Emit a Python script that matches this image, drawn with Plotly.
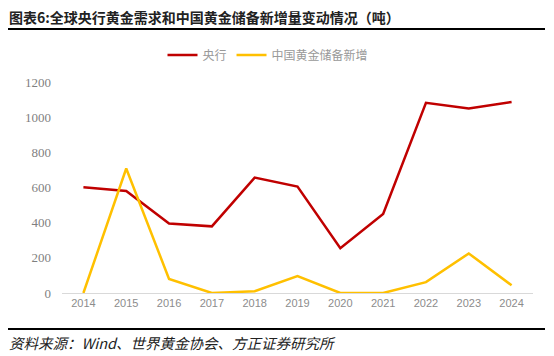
import plotly.graph_objects as go

years = ["2014", "2015", "2016", "2017", "2018", "2019", "2020", "2021", "2022", "2023", "2024"]
central_bank = [601, 580, 395, 379, 656, 605, 255, 450, 1082, 1050, 1086]
china_reserve = [0, 708, 80, 0, 10, 96, 0, 0, 62, 225, 44]

# page body has an 8px margin, so the figure is laid out 8px smaller / shifted
OFF = 8
W, H = 554 - OFF, 356 - OFF
L, R, T, B = 62 - OFF, 533 - OFF, 82 - OFF, 293 - OFF
pw, ph = R - L, B - T

def px(x):
    return (x - OFF - L) / pw

def py(y):
    return (B - (y - OFF)) / ph

fig = go.Figure()
fig.add_trace(go.Scatter(x=years, y=central_bank, name="央行", mode="lines",
                         line=dict(color="#C00000", width=2.5)))
fig.add_trace(go.Scatter(x=years, y=china_reserve, name="中国黄金储备新增", mode="lines",
                         line=dict(color="#FFC000", width=2.5)))

fig.update_layout(
    width=W, height=H,
    margin=dict(l=L, r=W - R, t=T, b=H - B),
    paper_bgcolor="white", plot_bgcolor="white",
    showlegend=True,
    legend=dict(orientation="h", x=px(268), xanchor="center", y=py(55), yanchor="middle",
                font=dict(family="Noto Sans CJK SC", size=12, color="#999999"),
                itemwidth=30, tracegroupgap=0),
    xaxis=dict(type="category", range=[-0.5, 10.5], showgrid=False, showline=True,
               linecolor="#D9D9D9", linewidth=1,
               ticks="", tickfont=dict(family="Liberation Sans", size=11, color="#8C8C8C"),
               zeroline=False),
    yaxis=dict(range=[0, 1200], dtick=200, showgrid=False, zeroline=False, showline=False,
               ticks="", tickfont=dict(family="Liberation Serif", size=13, color="#7F7F7F"),
               ticklabelstandoff=10),
    shapes=[
        dict(type="line", xref="paper", yref="paper", x0=px(7), x1=px(545), y0=py(29), y1=py(29),
             line=dict(color="black", width=2)),
        dict(type="line", xref="paper", yref="paper", x0=px(7), x1=px(545), y0=py(329), y1=py(329),
             line=dict(color="black", width=2)),
    ],
    annotations=[
        dict(text="<b>图表6:全球央行黄金需求和中国黄金储备新增量变动情况（吨）</b>", xref="paper", yref="paper",
             x=px(7), y=py(17), xanchor="left", yanchor="middle", showarrow=False,
             font=dict(family="Noto Sans CJK SC", size=14, color="#222222")),
        dict(text="<i>资料来源：Wind、世界黄金协会、方正证券研究所</i>", xref="paper", yref="paper",
             x=px(7), y=py(342), xanchor="left", yanchor="middle", showarrow=False,
             font=dict(family="Noto Sans CJK SC", size=14.5, color="#222222")),
    ],
)

fig.write_html("out.html")
